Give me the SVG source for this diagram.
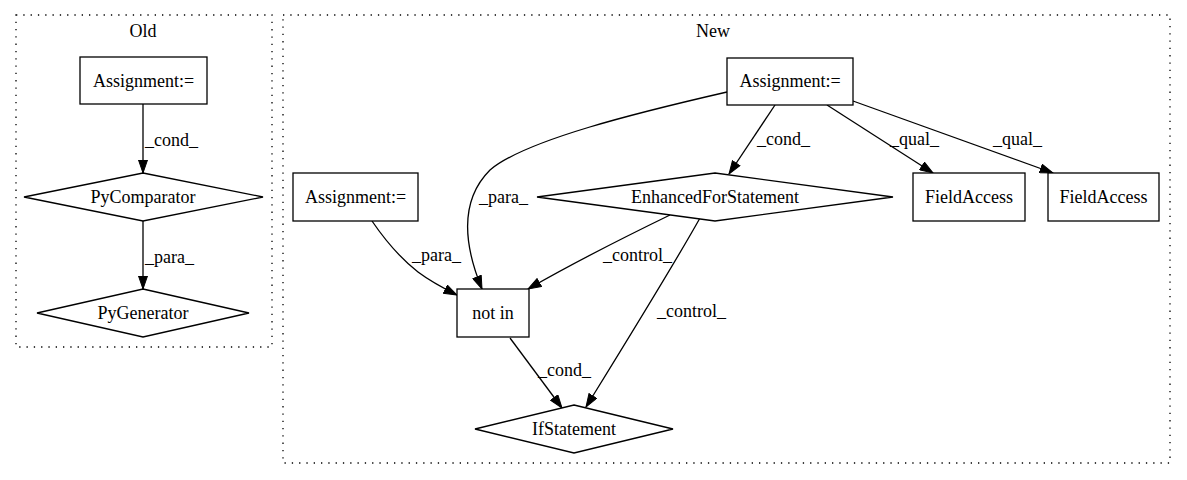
<svg xmlns="http://www.w3.org/2000/svg" width="1187" height="480" viewBox="0 0 1187 480">
<style>
.shape{fill:#fff;stroke:#000;stroke-width:1.3}
.cl{fill:none;stroke:#000;stroke-width:1.3;stroke-dasharray:1.3,6}
.e{fill:none;stroke:#000;stroke-width:1.3}
</style>
<defs>
<marker id="ah" markerUnits="userSpaceOnUse" markerWidth="14" markerHeight="10" viewBox="0 0 13 10" refX="13" refY="5" orient="auto">
<path d="M0,0.5 L13,5 L0,9.5 z" fill="#000" stroke="#000" stroke-width="1"/>
</marker>
</defs>
<rect width="1187" height="480" fill="#fff"/>
<g id="cluster_old">
<rect class="cl" x="16" y="15" width="256" height="332"/>
<text x="143" y="37" text-anchor="middle" font-family="Liberation Serif" font-size="18">Old</text>
</g>
<g id="cluster_new">
<rect class="cl" x="283" y="15" width="887" height="448"/>
<text x="713" y="37" text-anchor="middle" font-family="Liberation Serif" font-size="18">New</text>
</g>
<g id="connectors">
<path class="e" marker-end="url(#ah)" d="M143,104 L143,173"/>
<text x="145" y="146" font-family="Liberation Serif" font-size="18">_cond_</text>
<path class="e" marker-end="url(#ah)" d="M143,221 L143,289"/>
<text x="145" y="263" font-family="Liberation Serif" font-size="18">_para_</text>
<path class="e" marker-end="url(#ah)" d="M775,105 L729,174"/>
<text x="757" y="145" font-family="Liberation Serif" font-size="18">_cond_</text>
<path class="e" marker-end="url(#ah)" d="M827,105 L933,173"/>
<text x="890" y="145" font-family="Liberation Serif" font-size="18">_qual_</text>
<path class="e" marker-end="url(#ah)" d="M853,101 L1053,173"/>
<text x="993" y="145" font-family="Liberation Serif" font-size="18">_qual_</text>
<path class="e" marker-end="url(#ah)" d="M727,92 C640,112 525,140 490,170 C455,205 468,255 482,289"/>
<text x="479" y="203" font-family="Liberation Serif" font-size="18">_para_</text>
<path class="e" marker-end="url(#ah)" d="M372,221 C385,240 400,258 418,272 C430,281 445,289 457,295"/>
<text x="412" y="261" font-family="Liberation Serif" font-size="18">_para_</text>
<path class="e" marker-end="url(#ah)" d="M670,215 C635,232 575,262 528,289"/>
<text x="603" y="261" font-family="Liberation Serif" font-size="18">_control_</text>
<path class="e" marker-end="url(#ah)" d="M700,218 C672,268 615,360 586,407"/>
<text x="657" y="317" font-family="Liberation Serif" font-size="18">_control_</text>
<path class="e" marker-end="url(#ah)" d="M510,338 L562,408"/>
<text x="538" y="376" font-family="Liberation Serif" font-size="18">_cond_</text>
</g>
<g id="old_assign">
<rect class="shape" x="80" y="57" width="127" height="47"/>
<text x="143.5" y="87" text-anchor="middle" font-family="Liberation Serif" font-size="18">Assignment:=</text>
</g>
<g id="old_pycomparator">
<polygon class="shape" points="143,173 263,197 143,221 24,197"/>
<text x="143" y="203" text-anchor="middle" font-family="Liberation Serif" font-size="18">PyComparator</text>
</g>
<g id="old_pygenerator">
<polygon class="shape" points="143,289 249,313 143,337 37,313"/>
<text x="143" y="319" text-anchor="middle" font-family="Liberation Serif" font-size="18">PyGenerator</text>
</g>
<g id="new_assign_top">
<rect class="shape" x="727" y="58" width="126" height="47"/>
<text x="790" y="87" text-anchor="middle" font-family="Liberation Serif" font-size="18">Assignment:=</text>
</g>
<g id="new_efs">
<polygon class="shape" points="715,173 893,197 715,221 537,197"/>
<text x="715" y="203" text-anchor="middle" font-family="Liberation Serif" font-size="18">EnhancedForStatement</text>
</g>
<g id="new_fa1">
<rect class="shape" x="913" y="173" width="112" height="48"/>
<text x="969" y="203" text-anchor="middle" font-family="Liberation Serif" font-size="18">FieldAccess</text>
</g>
<g id="new_fa2">
<rect class="shape" x="1048" y="173" width="111" height="48"/>
<text x="1103.5" y="203" text-anchor="middle" font-family="Liberation Serif" font-size="18">FieldAccess</text>
</g>
<g id="new_assign_left">
<rect class="shape" x="293" y="173" width="125" height="48"/>
<text x="355.5" y="203" text-anchor="middle" font-family="Liberation Serif" font-size="18">Assignment:=</text>
</g>
<g id="new_notin">
<rect class="shape" x="457" y="289" width="72" height="48"/>
<text x="493" y="319" text-anchor="middle" font-family="Liberation Serif" font-size="18">not in</text>
</g>
<g id="new_if">
<polygon class="shape" points="574,405 673,429 574,453 475,429"/>
<text x="574" y="435" text-anchor="middle" font-family="Liberation Serif" font-size="18">IfStatement</text>
</g>
</svg>
